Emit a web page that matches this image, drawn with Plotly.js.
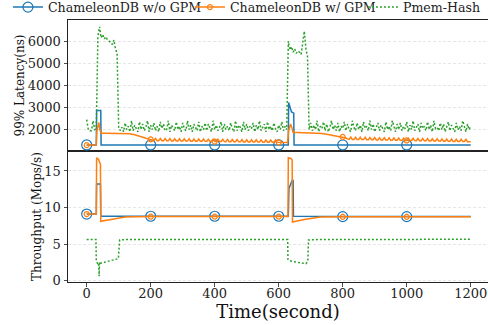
<!DOCTYPE html>
<html><head><meta charset="utf-8">
<script src="https://cdn.plot.ly/plotly-3.0.1.min.js"></script>
<style>html,body{margin:0;padding:0;background:#fff}#chart{width:488px;height:325px}</style>
</head><body><div id="chart"></div>
<script>
function range(a, b, s) { const r = []; for (let t = a; t <= b; t += s) r.push(t); return r; }

// ---------- Data ----------
const seriesNames = ['ChameleonDB w/o GPM', 'ChameleonDB w/ GPM', 'Pmem-Hash'];
const xTicks = [0, 200, 400, 600, 800, 1000, 1200];
const latencyTicks = [2000, 3000, 4000, 5000, 6000];
const throughputTicks = [0, 5, 10, 15];

// ChameleonDB w/o GPM
const woLatTime = [0, 30, 31, 44, 45, 200, 400, 600, 630, 631, 640, 647, 648, 800, 1000, 1200];
const woLatency = [1305, 1305, 2865, 2865, 1305, 1305, 1305, 1305, 1305, 3230, 2800, 2745, 1305, 1305, 1305, 1305];
const woTpTime = [0, 30, 31, 43, 44, 200, 400, 600, 630, 632, 642, 645, 646, 800, 1000, 1200];
const woThroughput = [9.1, 9.1, 13.2, 13.2, 8.8, 8.8, 8.8, 8.8, 8.8, 12.6, 13.7, 13.7, 8.8, 8.75, 8.75, 8.75];

// ChameleonDB w/ GPM
const wLatTime = [0, 10, 20, 30, 32, 38, 41, 45, 60, 80, 100, 120, 135, 150, 165, 180, 190, 200, 205]
  .concat(range(210, 600, 5))
  .concat([610, 620, 628, 631, 637, 641, 645, 660, 680, 700, 720, 735, 750, 765, 780, 790, 800, 810, 815])
  .concat(range(820, 1200, 5));
const wLatency = [1300, 1300, 1300, 1300, 1950, 2320, 2000, 1835, 1835, 1830, 1830, 1825, 1810, 1770, 1710, 1640, 1600, 1560, 1530,
  1500, 1600, 1498, 1497, 1597, 1495, 1494, 1594, 1492, 1491, 1591, 1489, 1488, 1588, 1486, 1485, 1585, 1483, 1482, 1582,
  1480, 1479, 1579, 1477, 1476, 1576, 1474, 1473, 1573, 1471, 1470, 1570, 1468, 1467, 1567, 1465, 1464, 1564, 1462, 1461,
  1561, 1459, 1458, 1558, 1456, 1455, 1555, 1453, 1452, 1552, 1450, 1449, 1549, 1447, 1446, 1546, 1444, 1443, 1543, 1441,
  1440, 1540, 1438, 1437, 1537, 1435, 1434, 1534, 1432, 1431, 1531, 1429, 1428, 1528, 1426, 1425, 1525, 1423, 1422,
  1420, 1418, 1418, 1950, 2250, 2100, 1865, 1865, 1860, 1855, 1845, 1820, 1790, 1750, 1710, 1690, 1670, 1620, 1580,
  1560, 1660, 1557, 1556, 1656, 1553, 1551, 1651, 1548, 1547, 1647, 1544, 1543, 1643, 1540, 1538, 1638, 1535, 1534, 1634,
  1531, 1530, 1630, 1527, 1525, 1625, 1522, 1521, 1621, 1518, 1517, 1617, 1514, 1512, 1612, 1509, 1508, 1608, 1505, 1504,
  1604, 1501, 1499, 1599, 1496, 1495, 1595, 1492, 1491, 1591, 1488, 1486, 1586, 1483, 1482, 1582, 1479, 1478, 1578, 1475,
  1473, 1573, 1470, 1469, 1569, 1466, 1465, 1565, 1462, 1460, 1560, 1457, 1456, 1556, 1453, 1452, 1450];
const wTpTime = [0, 30, 31, 37, 40, 43, 44, 80, 120, 200, 400, 600, 629, 630, 638, 642, 643, 680, 730, 800, 1000, 1200];
const wThroughput = [9.1, 9.1, 16.8, 16.6, 16.2, 16.0, 8.1, 8.4, 8.7, 8.75, 8.75, 8.75, 8.75, 16.8, 16.7, 16.5, 8.0, 8.35, 8.7, 8.72, 8.72, 8.72];

// Pmem-Hash
const pmLatTime = range(0, 1200, 5);
const pmLatency = [2450, 2000, 1950, 1950, 2400, 2000, 2050, 6200, 6650, 6150, 6300, 6100, 6200, 6050, 6000, 5950, 5850, 6050, 5650, 5450, 2100,
  1950, 2100, 1900, 2300, 2000, 2150, 1900, 2400, 1950, 2200, 2050, 1900, 2350, 2000, 2250, 1950, 2100, 2400, 1900, 2200,
  2000, 2300, 1950, 2150, 1900, 2350, 2050, 2250, 1950, 2000, 2400, 1900, 2200, 2100, 1950, 2350, 2000, 2150, 1900, 2300,
  2050, 1950, 2400, 2000, 2200, 1900, 2250, 2100, 1950, 2350, 1900, 2150, 2000, 2300, 1950, 2250, 2050, 1900, 2400, 2000,
  2200, 1950, 2100, 2350, 1900, 2250, 2000, 2150, 1950, 2300, 2050, 1900, 2400, 1950, 2200, 2100, 1900, 2350, 2000, 2250,
  1950, 2150, 2050, 2300, 1900, 2200, 2000, 2400, 1950, 2100, 2250, 1900, 2350, 2000, 2150, 1950, 2300, 2050, 1900, 2200,
  2000, 2350, 1950, 2150, 2000,
  6000, 5600, 5750, 5500, 5650, 5450, 5550, 5500, 5400, 5900, 6450, 5650, 5300,
  2000,
  2300, 1950, 2200, 2000, 2400, 1900, 2150, 2050, 2350, 1950, 2250, 1900, 2100, 2400, 2000, 2200, 1950, 2300, 1900, 2150,
  2050, 2350, 1950, 2250, 2000, 1900, 2400, 2100, 1950, 2300, 2000, 2200, 1900, 2350, 2050, 2150, 1950, 2400, 2000, 2250,
  1900, 2100, 2300, 1950, 2200, 2050, 1900, 2350, 2000, 2150, 1950, 2400, 2100, 1900, 2250, 2000, 2300, 1950, 2150, 2050,
  2350, 1900, 2200, 2000, 2400, 1950, 2100, 2250, 1900, 2300, 2050, 2150, 1950, 2350, 2000, 2200, 1900, 2400, 2050, 2100,
  1950, 2300, 2000, 2250, 1900, 2150, 2350, 1950, 2200, 2050, 1900, 2300, 2000, 2150, 1950, 2400, 2100, 1900, 2250, 2000,
  2150];
const pmTpTime = [0, 10, 20, 29, 30, 35, 38, 39, 40, 41, 45, 55, 65, 75, 85, 95, 99, 103, 120, 160,
  200, 250, 300, 350, 400, 450, 500, 550, 600, 628, 629, 635, 645, 655, 665, 675, 685, 691, 693, 720,
  760, 800, 850, 900, 950, 1000, 1050, 1100, 1150, 1200];
const pmThroughput = [5.6, 5.6, 5.55, 5.6, 2.6, 2.3, 2.4, 0.6, 2.5, 2.3, 2.4, 2.5, 2.6, 2.7, 2.8, 2.9, 3.0, 5.55, 5.6, 5.6,
  5.6, 5.55, 5.6, 5.6, 5.55, 5.6, 5.6, 5.55, 5.6, 5.6, 2.9, 2.7, 2.6, 2.55, 2.5, 2.4, 2.3, 2.6, 5.55, 5.6,
  5.6, 5.55, 5.6, 5.6, 5.55, 5.6, 5.6, 5.55, 5.6, 5.65];

// ---------- Styling ----------
const markTimes = [0, 200, 400, 600, 800, 1000];
const C = ['#1f77b4', '#ff7f0e', '#2ca02c'];
const FONT = 'DejaVu Serif';
const legendWidths = [137, 128, 76];
function markColors(ts, c) { return ts.map(t => markTimes.indexOf(t) >= 0 ? c : 'rgba(0,0,0,0)'); }

function woTrace(x, y, xa, ya, leg) {
  return { x, y, xaxis: xa, yaxis: ya, type: 'scatter', mode: 'lines+markers', name: seriesNames[0], showlegend: leg,
    legendwidth: legendWidths[0],
    line: { color: C[0], width: 1.5 },
    marker: { symbol: 'circle-open', size: 10, color: markColors(x, C[0]), line: { width: 1.2 } } };
}
function wTrace(x, y, xa, ya, leg) {
  return { x, y, xaxis: xa, yaxis: ya, type: 'scatter', mode: 'lines+markers', name: seriesNames[1], showlegend: leg,
    legendwidth: legendWidths[1],
    line: { color: C[1], width: 1.5 },
    marker: { symbol: 'circle-open', size: 5, color: markColors(x, C[1]), line: { width: 1.2 } } };
}
function pmTrace(x, y, xa, ya, leg) {
  return { x, y, xaxis: xa, yaxis: ya, type: 'scatter', mode: 'lines', name: seriesNames[2], showlegend: leg,
    legendwidth: legendWidths[2],
    line: { color: C[2], width: 1.5, dash: '2px,2px' } };
}

const data = [
  woTrace(woLatTime, woLatency, 'x2', 'y2', true),
  wTrace(wLatTime, wLatency, 'x2', 'y2', true),
  pmTrace(pmLatTime, pmLatency, 'x2', 'y2', true),
  woTrace(woTpTime, woThroughput, 'x', 'y', false),
  wTrace(wTpTime, wThroughput, 'x', 'y', false),
  pmTrace(pmTpTime, pmThroughput, 'x', 'y', false)
];

const axLine = { showline: true, linecolor: '#222', linewidth: 1, zeroline: false };
const yCommon = Object.assign({}, axLine, {
  ticks: 'outside', ticklen: 3.5, tickwidth: 0.8, tickcolor: '#222',
  showgrid: true, gridcolor: '#e0e0e0', gridwidth: 0.8, griddash: '3px,2px',
  tickfont: { family: FONT, size: 13, color: '#222' }, automargin: false
});

const layout = {
  width: 488, height: 325,
  margin: { l: 68, r: 0, t: 20, b: 43, pad: 0, autoexpand: false },
  paper_bgcolor: '#fff', plot_bgcolor: '#fff',
  font: { family: FONT, size: 13, color: '#222' },
  showlegend: true,
  legend: { orientation: 'h', x: -0.143, xanchor: 'left', y: 1.048, yanchor: 'middle',
    font: { family: FONT, size: 12.6, color: '#222' }, bgcolor: 'rgba(0,0,0,0)', borderwidth: 0 },
  xaxis: Object.assign({}, axLine, {
    anchor: 'y', domain: [0, 1], range: [-58.4, 1254], mirror: true,
    tickmode: 'array', tickvals: xTicks, ticktext: xTicks.map(String),
    ticks: 'outside', ticklen: 3.5, tickwidth: 0.8, tickcolor: '#222', showgrid: false,
    tickfont: { family: FONT, size: 13, color: '#222' }, automargin: false, ticklabelstandoff: -4,
    title: { text: 'Time(second)', font: { family: FONT, size: 18, color: '#111' }, standoff: 0 }
  }),
  xaxis2: Object.assign({}, axLine, {
    anchor: 'y2', domain: [0, 1], range: [-58.4, 1254], mirror: true, matches: 'x',
    showticklabels: false, ticks: '', showgrid: false
  }),
  yaxis: Object.assign({}, yCommon, {
    anchor: 'x', domain: [0, 0.5], range: [-0.2, 17.73],
    tickmode: 'array', tickvals: throughputTicks, ticktext: throughputTicks.map(String),
    title: { text: 'Throughput (Mops/s)', font: { family: FONT, size: 12, color: '#111' }, standoff: 0 }
  }),
  yaxis2: Object.assign({}, yCommon, {
    anchor: 'x2', domain: [0.5, 1], range: [1032, 6955],
    tickmode: 'array', tickvals: latencyTicks, ticktext: latencyTicks.map(String),
    title: { text: '99% Latency(ns)', font: { family: FONT, size: 12, color: '#111' }, standoff: 0 }
  })
};

Plotly.newPlot('chart', data, layout, { staticPlot: true, displayModeBar: false });
</script></body></html>
